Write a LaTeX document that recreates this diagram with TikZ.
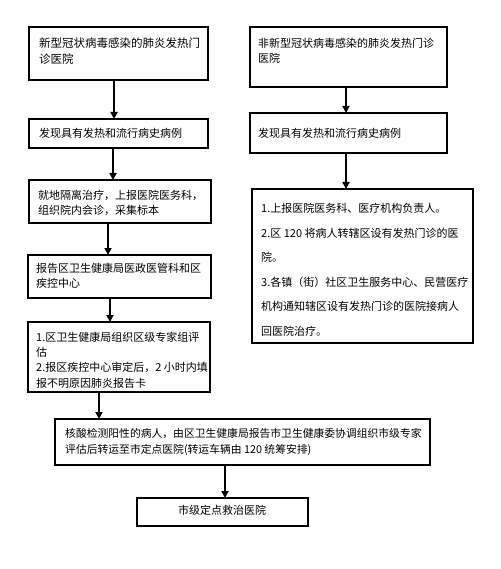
\documentclass[tikz,border=0pt]{standalone}
\usepackage{fontspec}
\setmainfont{Noto Sans CJK SC}
\usetikzlibrary{arrows.meta}
\tikzset{
  box/.style={draw=black, line width=2.3pt, fill=white, minimum width=#1, inner sep=0pt, outer sep=0pt},
  txt/.style={anchor=north west, inner sep=0pt, align=left, font=\fontsize{11}{15.2}\selectfont},
  arr/.style={line width=2pt, -{Triangle[width=7pt,length=7pt]}},
}
\begin{document}
\begin{tikzpicture}[x=1pt,y=-1pt]
\useasboundingbox[fill=white] (0,0) rectangle (500,569);
% left column
\node[box=179pt, minimum height=53pt] (b1) at (118.5,53.5) {};
\node[box=179pt, minimum height=29pt] (b2) at (118.5,133.5) {};
\node[box=182pt, minimum height=43pt] (b3) at (120,201.5) {};
\node[box=183pt, minimum height=43pt] (b4) at (119.5,276.5) {};
\node[box=182pt, minimum height=70pt] (b5) at (119,357) {};
\node[box=375pt, minimum height=46pt] (b6) at (242.5,442) {};
\node[box=171pt, minimum height=28pt] (b7) at (222.5,512) {};
% right column
\node[box=197pt, minimum height=60pt] (r1) at (348.5,57) {};
\node[box=197pt, minimum height=40pt] (r2) at (348.5,133) {};
\node[box=221pt, minimum height=154pt] (r3) at (362.5,266) {};
% texts
\node[txt, font=\fontsize{11.5}{15.2}\selectfont] (t1) at (39,38) {新型冠状病毒感染的肺炎发热门\\诊医院};
\node[txt] (t2) at (39,128) {发现具有发热和流行病史病例};
\node[txt] (t3) at (38,190) {就地隔离治疗，上报医院医务科，\\组织院内会诊，采集标本};
\node[txt] (t4) at (36,263) {报告区卫生健康局医政医管科和区\\疾控中心};
\node[txt] (t5) at (36,332) {1.区卫生健康局组织区级专家组评\\估\\2.报区疾控中心审定后，2 小时内填\\报不明原因肺炎报告卡};
\node[txt, font=\fontsize{10.8}{16}\selectfont] (t6) at (65,428) {核酸检测阳性的病人，由区卫生健康局报告市卫生健康委协调组织市级专家\\评估后转运至市定点医院(转运车辆由 120 统筹安排)};
\node[txt] (t7) at (178,505) {市级定点救治医院};
\node[txt] (tr1) at (258,38) {非新型冠状病毒感染的肺炎发热门诊\\医院};
\node[txt] (tr2) at (258,128) {发现具有发热和流行病史病例};
\node[txt, font=\fontsize{11}{24.5}\selectfont] (tr3) at (261,203) {1.上报医院医务科、医疗机构负责人。\\2.区 120 将病人转辖区设有发热门诊的医\\院。\\3.各镇（街）社区卫生服务中心、民营医疗\\机构通知辖区设有发热门诊的医院接病人\\回医院治疗。};
% arrows
\draw[arr] ([xshift=85pt]b1.south west) -- ([xshift=85pt]b2.north west);
\draw[arr] ([xshift=84pt]b2.south west) -- ([xshift=84pt]b3.north west);
\draw[arr] ([xshift=79pt]b3.south west) -- ([xshift=80pt]b4.north west);
\draw[arr] ([xshift=82pt]b4.south west) -- ([xshift=82pt]b5.north west);
\draw[arr] ([xshift=71pt]b5.south west) -- ([xshift=44pt]b6.north west);
\draw[arr] ([xshift=170pt]b6.south west) -- ([xshift=88pt]b7.north west);
\draw[arr] ([xshift=96pt]r1.south west) -- ([xshift=96pt]r2.north west);
\draw[arr] ([xshift=96pt]r2.south west) -- ([xshift=94pt]r3.north west);
\end{tikzpicture}
\end{document}
